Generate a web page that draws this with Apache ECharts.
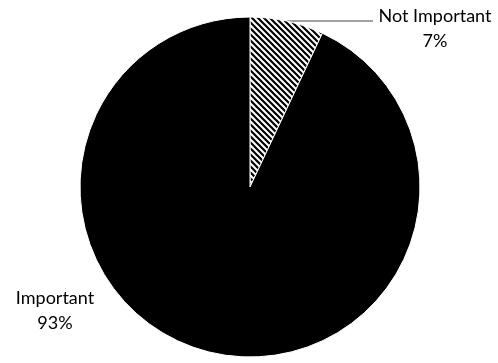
<!DOCTYPE html>
<html><head><meta charset="utf-8">
<script src="https://cdn.jsdelivr.net/npm/echarts@6/dist/echarts.min.js"></script>
<style>html,body{margin:0;padding:0;background:#fff}#c{width:498px;height:363px}</style>
</head><body><div id="c"></div>
<script>
const categories = ['Not Important', 'Important'];
const values = [7, 93];

function hatch() {
  const s = 6, cv = document.createElement('canvas');
  cv.width = s; cv.height = s;
  const g = cv.getContext('2d');
  g.fillStyle = '#fff'; g.fillRect(0, 0, s, s);
  g.strokeStyle = '#000'; g.lineWidth = 2.2;
  g.beginPath();
  g.moveTo(-1, -1); g.lineTo(s + 1, s + 1);
  g.moveTo(s - 1, -1); g.lineTo(2 * s + 1, s + 1);
  g.moveTo(-s - 1, -1); g.lineTo(1, s + 1);
  g.stroke();
  return cv;
}
const colors = [{ image: hatch(), repeat: 'repeat' }, '#000'];
const labelPos = [
  { x: 435, y: 4, line: [[287, 21], [373, 21], [373, 21]] },
  { x: 55, y: 286, line: null }
];

const chart = echarts.init(document.getElementById('c'), null, { renderer: 'canvas' });
chart.setOption({
  animation: false,
  series: [{
    type: 'pie',
    center: [250, 187],
    radius: 170,
    startAngle: 90,
    clockwise: true,
    data: categories.map((n, i) => ({
      name: n, value: values[i],
      itemStyle: { color: colors[i] },
      labelLine: { show: i === 0 }
    })),
    itemStyle: { borderColor: '#fff', borderWidth: 1 },
    label: {
      show: true,
      formatter: '{b}\n{d}%',
      fontFamily: 'Lato',
      fontSize: 18,
      color: '#000',
      lineHeight: 25,
      align: 'center'
    },
    labelLine: { lineStyle: { color: '#444', width: 1 } },
    labelLayout: function (p) {
      const L = labelPos[p.dataIndex];
      const o = { x: L.x, y: L.y, align: 'center', verticalAlign: 'top' };
      if (L.line) o.labelLinePoints = L.line;
      return o;
    }
  }]
});
</script></body></html>
